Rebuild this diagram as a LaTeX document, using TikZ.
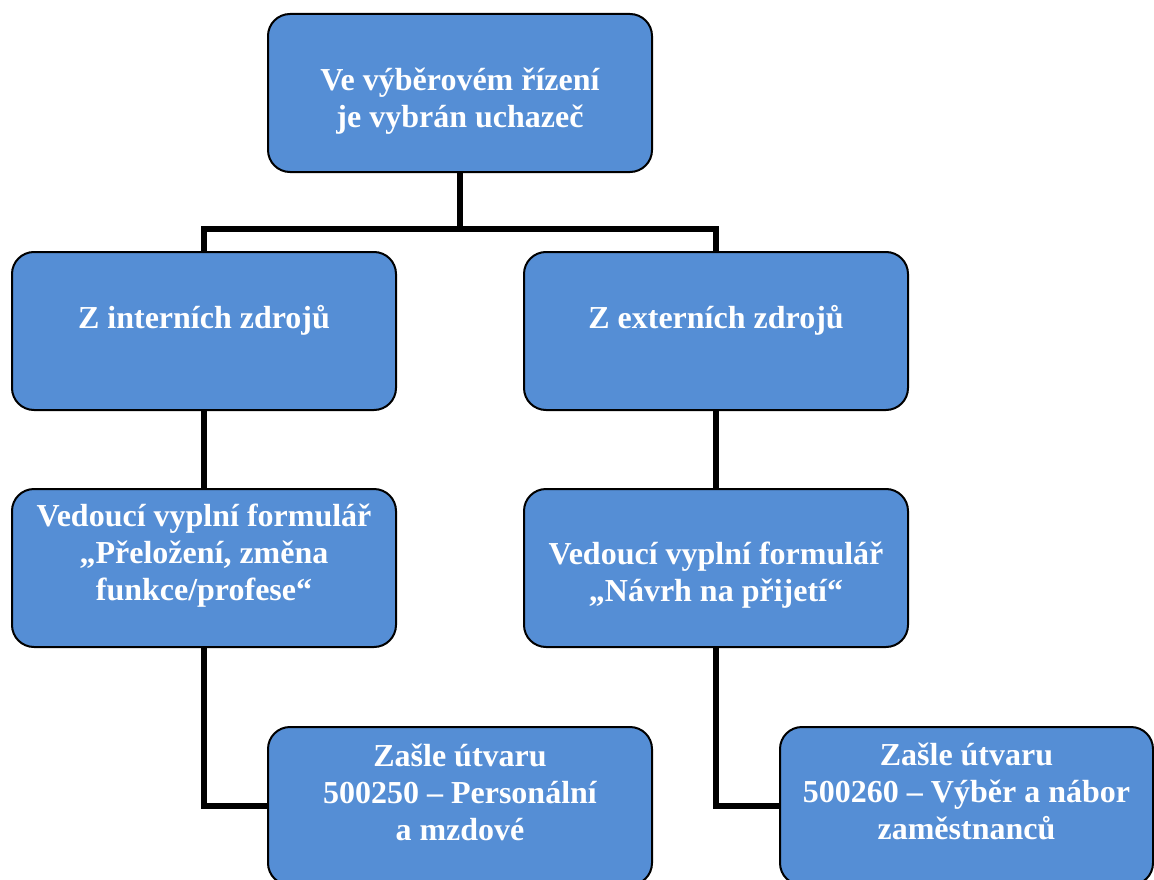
\documentclass[tikz,border=0pt]{standalone}
\usepackage{fontspec}
\setmainfont{Liberation Serif}
\definecolor{boxblue}{HTML}{558ED5}
\begin{document}
\begin{tikzpicture}[x=1pt,y=-1pt,
  box/.style={draw=black, line width=2pt, fill=boxblue, rounded corners=22pt,
    minimum height=158pt, inner sep=0pt},
  lbl/.style={text=white, font=\bfseries\fontsize{32}{37}\selectfont,
    align=center, anchor=base, inner sep=0pt},
  conn/.style={draw=black, line width=5.5pt, line join=miter}
]
\useasboundingbox (0,0) rectangle (1154,880);
\clip (0,0) rectangle (1154,880);
% boxes
\node[box, minimum width=384pt] (top) at (460,93) {};
\node[box, minimum width=384pt] (left1) at (204,331) {};
\node[box, minimum width=384pt] (right1) at (716,331) {};
\node[box, minimum width=384pt] (left2) at (204,568) {};
\node[box, minimum width=384pt] (right2) at (716,568) {};
\node[box, minimum width=384pt] (bl) at (460,806) {};
\node[box, minimum width=373pt] (br) at (966.5,806) {};
% connectors
\coordinate (j) at (460,229);
\draw[conn] (top.south) -- (j);
\draw[conn] (left1.north) |- (j) -| (right1.north);
\draw[conn] (left1.south) -- (left2.north);
\draw[conn] (right1.south) -- (right2.north);
\draw[conn] (left2.south) |- (bl.west);
\draw[conn] (right2.south) |- (br.west);
% texts (anchor at baseline of the last line)
\node[lbl] (ttop) at (460,128) {Ve výběrovém řízení\\je vybrán uchazeč};
\node[lbl] (tleft1) at (204,328) {Z interních zdrojů};
\node[lbl] (tright1) at (716,328) {Z externích zdrojů};
\node[lbl] (tleft2) at (204,600) {Vedoucí vyplní formulář\\„Přeložení, změna\\funkce/profese“};
\node[lbl] (tright2) at (716,601) {Vedoucí vyplní formulář\\„Návrh na přijetí“};
\node[lbl] (tbl) at (460,840) {Zašle útvaru\\500250 – Personální\\a mzdové};
\node[lbl] (tbr) at (966.5,839) {Zašle útvaru\\500260 – Výběr a nábor\\zaměstnanců};
\end{tikzpicture}
\end{document}
